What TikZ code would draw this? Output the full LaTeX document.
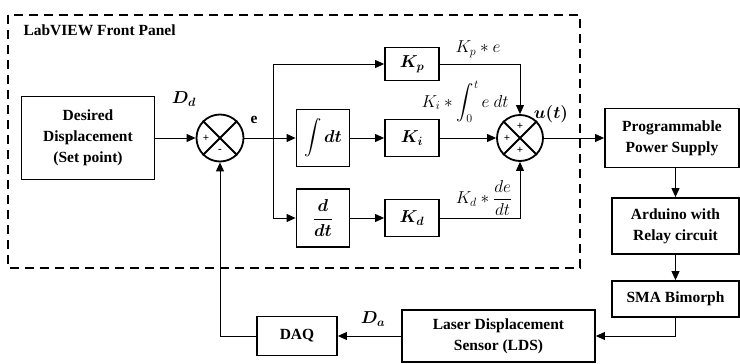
\documentclass[tikz,border=0pt]{standalone}
\usepackage{amsmath}
\usepackage{bm}
\usepackage{fontspec}
\setmainfont{Liberation Serif}
\usetikzlibrary{arrows.meta}
\begin{document}
\begin{tikzpicture}[x=1pt, y=-1pt, every node/.style={font=\fontsize{15.5}{21}\selectfont\bfseries},
  blk/.style={draw, line width=1.8pt, inner sep=0pt},
  txtblk/.style={blk, align=center},
  mblk/.style={blk, font=\fontsize{17}{20}\selectfont},
  sumj/.style={circle, draw, line width=1.8pt, minimum size=47pt, inner sep=0pt},
  sgn/.style={font=\fontsize{11}{11}\selectfont\bfseries, inner sep=0pt},
  lbl/.style={font=\fontsize{16.5}{18}\selectfont},
  wire/.style={line width=1pt, -{Triangle[length=9pt, width=8pt]}}]
  \useasboundingbox (0,0) rectangle (740,364);
  \draw[line width=2.2pt, dash pattern=on 9pt off 6pt] (8,15) rectangle (580,268);
  \node[anchor=west] (title) at (20,30) {LabVIEW Front Panel};
  \node[txtblk, minimum width=133pt, minimum height=83pt] (des) at (88,138) {Desired\\Displacement\\(Set point)};
  \node[sumj] (s1) at (220,138) {};
  \coordinate (br) at (273,138);
  \node[mblk, minimum width=53pt, minimum height=57pt] (igr) at (323,138) {$\displaystyle\intop\nolimits \bm{dt}$};
  \node[mblk, minimum width=53pt, minimum height=58pt] (drv) at (323,218) {$\displaystyle\bm{\frac{d}{dt}}$};
  \node[mblk, minimum width=54pt, minimum height=33pt] (kp) at (412,64) {$\bm{K_p}$};
  \node[mblk, minimum width=54pt, minimum height=37pt] (ki) at (412,138) {$\bm{K_i}$};
  \node[mblk, minimum width=54pt, minimum height=37pt] (kd) at (412,218) {$\bm{K_d}$};
  \node[sumj, minimum size=46pt] (s2) at (520,138) {};
  \node[txtblk, minimum width=134pt, minimum height=59pt] (ps) at (672,138) {Programmable\\Power Supply};
  \node[txtblk, minimum width=127pt, minimum height=56pt] (ard) at (675.5,226) {Arduino with\\Relay circuit};
  \node[blk, minimum width=127pt, minimum height=36pt] (sma) at (675.5,299) {SMA Bimorph};
  \node[txtblk, minimum width=193pt, minimum height=52pt] (lds) at (498.5,336) {Laser Displacement\\Sensor (LDS)};
  \node[blk, minimum width=80pt, minimum height=39pt] (daq) at (297,336) {DAQ};
  \foreach \s in {s1,s2}
    \draw[line width=1.8pt] (\s.north west) -- (\s.south east) (\s.north east) -- (\s.south west);
  \node[sgn] at ([xshift=-14pt]s1.center) {+};
  \node[sgn] at ([yshift=-13pt]s1.center) {-};
  \node[sgn] at ([xshift=-13pt]s2.center) {+};
  \node[sgn] at ([yshift=12pt]s2.center) {+};
  \node[sgn] at ([yshift=-12pt]s2.center) {+};
  \draw[wire] (des) -- (s1);
  \draw[line width=1pt] (s1) -- (br);
  \draw[wire] (br) |- (kp);
  \draw[wire] (br) -- (igr);
  \draw[wire] (br) |- (drv);
  \draw[wire] (igr) -- (ki);
  \draw[wire] (drv) -- (kd);
  \draw[wire] (ki) -- (s2);
  \draw[wire] (kp) -| (s2);
  \draw[wire] (kd) -| (s2);
  \draw[wire] (s2) -- (ps);
  \draw[wire] (ps.south -| ard) -- (ard);
  \draw[wire] (ard) -- (sma);
  \draw[wire] (sma) |- (lds);
  \draw[wire] (lds) -- (daq);
  \draw[wire] (daq) -| (s1);
  \node[lbl] (dd) at (184,99) {$\bm{D_d}$};
  \node (elbl) at (254,120) {e};
  \node[lbl] (kplbl) at (478,49) {$K_p * e$};
  \node[lbl] (kilbl) at (465,102) {$\displaystyle K_i * \intop\nolimits_0^t e\ dt$};
  \node[lbl] (kdlbl) at (484,198) {$\displaystyle K_d * \frac{de}{dt}$};
  \node[lbl] (ut) at (551,114) {$\bm{u(t)}$};
  \node[lbl] (da) at (373,319) {$\bm{D_a}$};
\end{tikzpicture}
\end{document}
